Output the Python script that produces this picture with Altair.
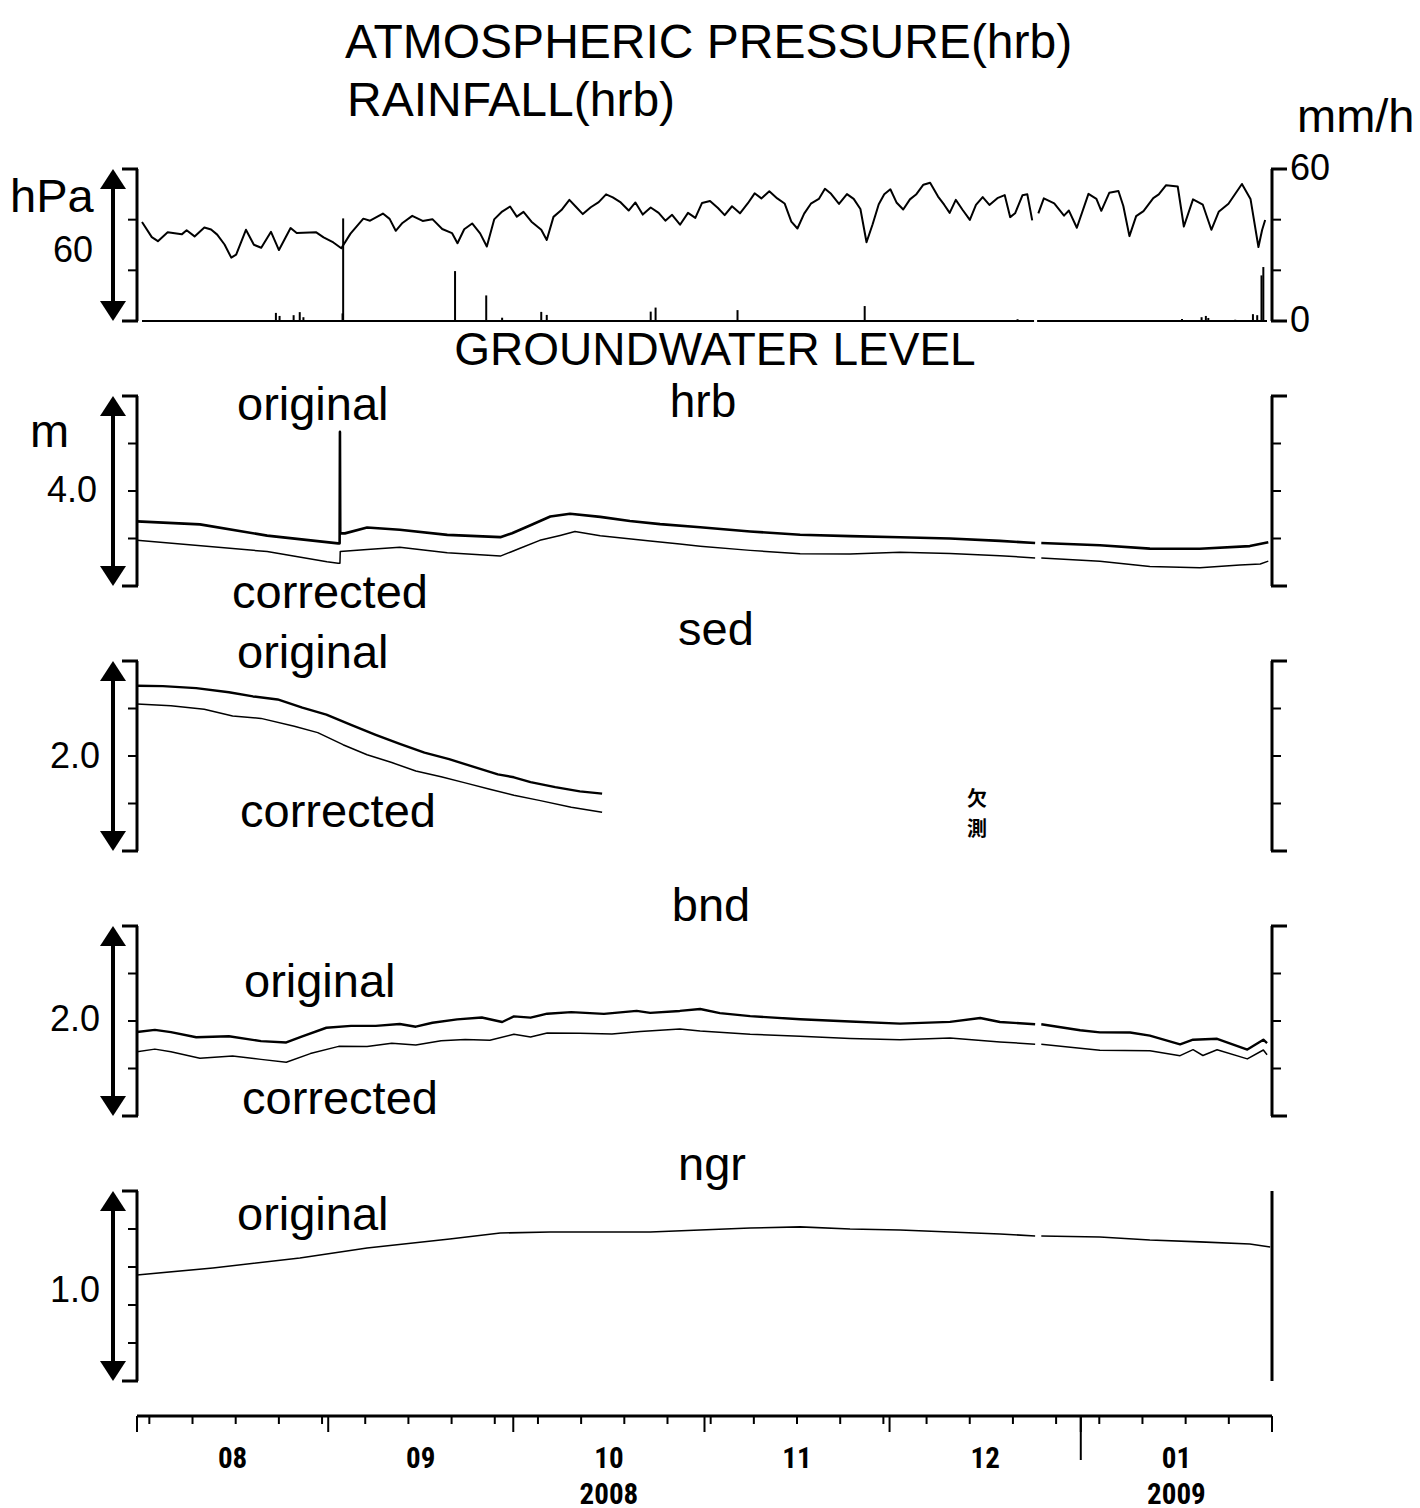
import altair as alt
import pandas as pd

# ---------------------------------------------------------------
# Data.  day = days since 2008-08-01 00:00
# ---------------------------------------------------------------
pressure_hpa = [
    (0, 1014.1), (1.6, 1008.1), (2.6, 1006.5), (4.2, 1010.0), (6.5, 1009.2), (7.3, 1010.8),
    (8.6, 1008.4), (10.2, 1011.9), (11.3, 1011.1), (12.3, 1009.1), (13.5, 1005.2), (14.6, 1000.0),
    (15.4, 1001.2), (17.0, 1011.0), (18.3, 1005.1), (19.5, 1003.9), (21.1, 1010.2), (22.4, 1003.0),
    (24.3, 1011.7), (25.3, 1009.7), (28.5, 1010.0), (29.7, 1008.0), (31.3, 1006.0), (32.6, 1003.7),
    (34.1, 1009.5), (36.2, 1015.4), (37.3, 1014.6), (39.4, 1017.4), (40.5, 1015.3), (41.5, 1010.6),
    (42.6, 1013.7), (44.2, 1016.5), (45.9, 1014.5), (47.5, 1015.2), (49.1, 1011.3), (50.7, 1009.7),
    (51.6, 1005.7), (52.7, 1011.2), (54.0, 1013.5), (55.3, 1009.6), (56.4, 1004.4), (57.6, 1015.1),
    (58.9, 1018.2), (60.2, 1020.2), (61.3, 1016.2), (62.4, 1018.1), (63.7, 1014.2), (65.3, 1011.0),
    (66.2, 1007.0), (67.3, 1016.1), (68.6, 1018.8), (69.9, 1022.8), (71.0, 1020.0), (72.1, 1017.2),
    (73.4, 1019.9), (74.7, 1021.9), (75.9, 1025.0), (77.0, 1023.8), (78.3, 1021.8), (79.6, 1018.6),
    (80.7, 1021.8), (81.9, 1017.0), (83.2, 1019.8), (84.5, 1017.7), (85.6, 1014.6), (86.7, 1016.9),
    (88.0, 1013.0), (89.3, 1017.7), (90.5, 1015.7), (91.6, 1021.6), (92.9, 1022.4), (94.2, 1019.6),
    (95.3, 1016.8), (96.5, 1020.3), (97.8, 1017.5), (99.1, 1021.5), (100.2, 1025.4), (101.3, 1023.4),
    (102.6, 1026.2), (103.9, 1023.4), (105.1, 1021.4), (106.2, 1014.2), (107.2, 1011.5), (108.3, 1017.4),
    (109.4, 1021.3), (110.7, 1023.2), (111.7, 1027.2), (112.7, 1025.2), (114.0, 1021.2), (115.3, 1025.1),
    (116.4, 1023.2), (117.5, 1019.2), (118.5, 1006.1), (119.5, 1013.2), (120.5, 1021.1), (121.4, 1025.0),
    (122.4, 1027.0), (123.4, 1021.8), (124.5, 1019.0), (125.6, 1023.0), (126.6, 1024.9), (127.8, 1028.8),
    (128.9, 1029.6), (130.2, 1024.1), (131.2, 1020.9), (132.1, 1017.7), (133.1, 1022.8), (134.2, 1018.9),
    (135.4, 1014.9), (136.4, 1020.8), (137.5, 1023.9), (138.6, 1020.8), (139.9, 1023.5), (141.1, 1024.7),
    (142.0, 1016.0), (142.8, 1017.5), (144.0, 1024.6), (144.8, 1025.0), (145.6, 1014.7),
    (146.6, 1017.5), (147.5, 1023.4), (149.2, 1021.4), (150.8, 1016.6), (151.6, 1018.6), (152.9, 1011.8),
    (154.8, 1025.2), (156.1, 1023.2), (156.9, 1018.5), (158.2, 1025.6), (159.7, 1026.3), (160.5, 1020.4),
    (161.5, 1008.5), (162.6, 1016.4), (163.8, 1018.4), (165.4, 1023.5), (166.3, 1025.0), (167.5, 1028.6),
    (169.4, 1028.1), (170.4, 1012.3), (171.9, 1023.0), (173.5, 1020.9), (174.9, 1011.0), (176.1, 1018.1),
    (177.7, 1021.3), (179.9, 1029.1), (181.3, 1023.2), (182.6, 1004.2), (183.2, 1010.9), (183.7, 1014.9),
]

rainfall_mmh = [
    (21.9, 3.2), (22.5, 2.0), (24.8, 2.3), (25.8, 3.5), (26.4, 1.5), (32.8, 3.0), (32.9, 40.5),
    (51.2, 19.7), (56.3, 10.1), (58.9, 1.3), (65.3, 3.6), (66.2, 2.4), (83.2, 3.7), (84.0, 5.3),
    (97.4, 4.3), (118.2, 5.9), (143.2, 0.7), (170.1, 0.8), (173.3, 1.5), (174.0, 2.0), (174.4, 1.2),
    (178.8, 0.5), (181.7, 2.7), (182.4, 2.3), (183.1, 18.0), (183.4, 21.3),
]

hrb_original = [
    (0, 1.361), (10.2, 1.298), (21.1, 1.060), (32.6, 0.898), (32.85, 0.898), (32.9, 3.244),
    (32.95, 1.108), (33.7, 1.108), (37.3, 1.231), (42.6, 1.185), (50.3, 1.076), (58.9, 1.028),
    (60.8, 1.110), (63.7, 1.275), (67.0, 1.462), (70.2, 1.522), (75.1, 1.455), (79.9, 1.370),
    (84.8, 1.303), (91.3, 1.236), (99.4, 1.148), (107.5, 1.079), (115.6, 1.051), (123.7, 1.026),
    (131.8, 0.999), (139.9, 0.951), (145.6, 0.905), (146.6, 0.905), (156.1, 0.857), (164.2, 0.787),
    (172.3, 0.783), (180.4, 0.840), (183.4, 0.921),
]
hrb_corrected = [
    (0, 0.963), (21.1, 0.725), (30.8, 0.509), (32.6, 0.480), (32.9, 0.480), (32.95, 0.725),
    (37.3, 0.771), (42.6, 0.815), (50.3, 0.699), (58.9, 0.630), (60.5, 0.712), (62.1, 0.796),
    (65.3, 0.961), (68.6, 1.064), (71.0, 1.146), (75.1, 1.058), (83.2, 0.949), (88.0, 0.882),
    (91.3, 0.838), (99.4, 0.750), (107.5, 0.681), (115.6, 0.674), (123.7, 0.712), (131.8, 0.685),
    (139.9, 0.637), (145.6, 0.591), (146.6, 0.591), (156.1, 0.521), (164.2, 0.410), (172.3, 0.385),
    (178.8, 0.444), (182.1, 0.463), (183.4, 0.524),
]

sed_original = [
    (0, 1.740), (4.2, 1.736), (9.6, 1.714), (14.9, 1.671), (18.8, 1.627), (22.8, 1.595),
    (26.8, 1.509), (30.7, 1.435), (34.7, 1.328), (38.7, 1.223), (42.6, 1.127), (46.6, 1.035),
    (50.6, 0.967), (54.6, 0.885), (58.5, 0.807), (61.1, 0.776), (63.8, 0.725), (67.8, 0.672),
    (71.8, 0.628), (75.4, 0.604),
]
sed_corrected = [
    (0, 1.547), (5.5, 1.528), (10.9, 1.493), (15.5, 1.421), (20.1, 1.396), (25.5, 1.313),
    (29.3, 1.246), (33.4, 1.119), (37.3, 1.013), (41.3, 0.931), (45.2, 0.842), (49.3, 0.781),
    (53.2, 0.717), (57.2, 0.651), (61.1, 0.586), (65.2, 0.533), (70.4, 0.461), (75.4, 0.407),
]

bnd_original = [
    (0, 0.884), (2.9, 0.907), (5.5, 0.883), (9.6, 0.829), (14.9, 0.839), (20.1, 0.788),
    (24.2, 0.774), (26.8, 0.839), (30.7, 0.929), (34.7, 0.949), (38.7, 0.949), (42.6, 0.969),
    (45.2, 0.940), (47.9, 0.982), (51.9, 1.017), (55.9, 1.037), (59.2, 0.989), (61.1, 1.049),
    (63.8, 1.035), (66.5, 1.077), (70.4, 1.093), (75.7, 1.075), (81.0, 1.107), (83.2, 1.086),
    (88.0, 1.106), (91.3, 1.126), (94.5, 1.083), (99.4, 1.051), (107.5, 1.018), (115.6, 0.995),
    (123.7, 0.972), (131.8, 0.991), (136.7, 1.032), (139.9, 0.989), (145.6, 0.966), (146.6, 0.966),
    (152.9, 0.902), (156.1, 0.880), (161.0, 0.879), (164.2, 0.846), (169.1, 0.754), (171.2, 0.803),
    (175.1, 0.813), (180.0, 0.699), (182.6, 0.803), (183.2, 0.768),
]
bnd_corrected = [
    (0, 0.677), (2.9, 0.704), (5.5, 0.676), (10.2, 0.608), (15.5, 0.632), (20.1, 0.596),
    (24.2, 0.566), (28.1, 0.657), (32.7, 0.733), (37.3, 0.732), (41.3, 0.766), (45.2, 0.747),
    (49.3, 0.792), (53.2, 0.805), (57.2, 0.798), (61.1, 0.860), (63.8, 0.831), (66.5, 0.873),
    (71.8, 0.871), (77.0, 0.863), (81.6, 0.889), (88.0, 0.917), (91.3, 0.895), (99.4, 0.861),
    (107.5, 0.839), (115.6, 0.816), (123.7, 0.803), (131.8, 0.822), (139.9, 0.779), (145.6, 0.756),
    (146.6, 0.756), (152.9, 0.713), (156.1, 0.691), (164.2, 0.688), (169.1, 0.635), (171.2, 0.698),
    (172.8, 0.637), (175.1, 0.697), (180.0, 0.601), (182.6, 0.695), (183.2, 0.645),
]

ngr_original = [
    (0, 0.558), (12.3, 0.595), (26.4, 0.647), (37.3, 0.700), (50.7, 0.747), (58.9, 0.779),
    (67.0, 0.784), (75.1, 0.784), (83.2, 0.784), (91.3, 0.795), (99.4, 0.805), (107.5, 0.811),
    (115.6, 0.800), (123.7, 0.795), (131.8, 0.784), (139.9, 0.774), (145.6, 0.763), (146.6, 0.763),
    (156.1, 0.758), (164.2, 0.742), (172.3, 0.732), (180.4, 0.721), (183.7, 0.705),
]

record_break_day = (145.9, 146.4)      # logger break, late December 2008
period_days = (0, 184)                 # 2008-08-01 .. 2009-02-01

month_labels = ["08", "09", "10", "11", "12", "01"]
month_mid_day = [15.5, 46.0, 76.5, 107.0, 137.5, 168.5]
month_start_day = [0, 31, 61, 92, 122, 153, 184]
year_labels = ["2008", "2009"]
year_mid_day = [76.5, 168.5]
year_start_day = [153]

# scale ranges (the double arrows show the full span)
P_DOM, P_TICKS = [975, 1035], [975, 995, 1015, 1035]
R_DOM, R_TICKS = [0, 60], [0, 20, 40, 60]
H_DOM, H_TICKS = [0, 4], [0, 1, 2, 3, 4]
S_DOM, S_TICKS = [0, 2], [0, 0.5, 1, 1.5, 2]
B_DOM, B_TICKS = [0, 2], [0, 0.5, 1, 1.5, 2]
N_DOM, N_TICKS = [0, 1], [0, 0.2, 0.4, 0.6, 0.8, 1.0]

# ---------------------------------------------------------------
BASE = pd.Timestamp("2008-08-01 00:00:00")
W = 1135
SANS = "Liberation Sans, Arial, Helvetica, sans-serif"
NARROW = "Liberation Sans Narrow, Roboto Condensed, Arial Narrow, DejaVu Sans Condensed, sans-serif"
CJK = "Noto Sans CJK JP"
UP = "M0,-0.77L1,0.77L-1,0.77Z"
DOWN = "M0,0.77L1,-0.77L-1,-0.77Z"


def to_time(days):
    return (BASE + pd.to_timedelta(pd.Series(days, dtype=float), unit="D")).dt.round("min")


def series(pairs):
    df = pd.DataFrame(pairs, columns=["day", "v"])
    df["t"] = to_time(df["day"])
    df["seg"] = (df["day"] > record_break_day[0]).astype(int)
    return df[["t", "v", "seg"]]


XDOM = [alt.DateTime(year=2008, month=8, date=1), alt.DateTime(year=2009, month=2, date=1)]


def xenc(field="t"):
    return alt.X(f"{field}:T", scale=alt.Scale(domain=XDOM, nice=False), axis=None, title=None)


def yenc(field, dom):
    return alt.Y(f"{field}:Q", scale=alt.Scale(domain=dom, nice=False, zero=False),
                 axis=None, title=None)


def line(pairs, dom, width=1.6):
    return alt.Chart(series(pairs)).mark_line(
        color="black", strokeWidth=width, strokeJoin="round").encode(
        x=xenc(), y=yenc("v", dom), detail="seg:N")


def frame(dom, ticks, side, with_ticks=True):
    """vertical scale bar: line, small ticks, longer end caps (drawn on the panel's scale)"""
    x0 = 0 if side == "left" else W
    sgn = -1 if side == "left" else 1
    out = [alt.Chart(pd.DataFrame({"lo": [dom[0]], "hi": [dom[1]]})).mark_rule(
        color="black", strokeWidth=3).encode(x=alt.value(x0), y=yenc("hi", dom), y2="lo:Q")]
    if with_ticks:
        out.append(alt.Chart(pd.DataFrame({"v": ticks})).mark_rule(
            color="black", strokeWidth=2).encode(
            y=yenc("v", dom), x=alt.value(x0), x2=alt.value(x0 + sgn * 9)))
        out.append(alt.Chart(pd.DataFrame({"v": dom})).mark_rule(
            color="black", strokeWidth=3).encode(
            y=yenc("v", dom), x=alt.value(x0 - sgn * 1), x2=alt.value(x0 + sgn * 15)))
    return out


def arrow(dom):
    df = pd.DataFrame({"lo": [dom[0]], "hi": [dom[1]]})
    shaft = alt.Chart(df).mark_rule(color="black", strokeWidth=4, yOffset=12, y2Offset=-12).encode(
        x=alt.value(-24), y=yenc("hi", dom), y2="lo:Q")
    up = alt.Chart(df).mark_point(shape=UP, size=676, filled=True, color="black", opacity=1,
                                  strokeWidth=0, yOffset=10).encode(
        x=alt.value(-24), y=yenc("hi", dom))
    down = alt.Chart(df).mark_point(shape=DOWN, size=676, filled=True, color="black", opacity=1,
                                    strokeWidth=0, yOffset=-10).encode(
        x=alt.value(-24), y=yenc("lo", dom))
    return [shaft, up, down]


def label(text, x, y, size=47, align="left", font=SANS, weight="normal", **kw):
    return alt.Chart(pd.DataFrame({"k": [0]})).mark_text(
        text=text, align=align, baseline="alphabetic", fontSize=size, font=font,
        fontWeight=weight, color="black", **kw).encode(x=alt.value(x), y=alt.value(y))


def span(dom):
    d = dom[1] - dom[0]
    return f"{d:.0f}" if d >= 10 else f"{d:.1f}"


# ---------------- panel 1 : pressure + rainfall ----------------
anchor = alt.Chart(pd.DataFrame({"k": [0]})).mark_square(size=4, color="white", opacity=0.01).encode(
    x=alt.value(-136), y=alt.value(-168))

pressure_group = alt.layer(
    anchor,
    line(pressure_hpa, P_DOM, 2.0),
    *frame(P_DOM, P_TICKS, "left"),
    *arrow(P_DOM),
    label("ATMOSPHERIC PRESSURE(hrb)", 208, -111, 48),
    label("RAINFALL(hrb)", 210, -53, 48),
    label("mm/h", 1160, -37),
    label("hPa", -127, 43),
    label(span(P_DOM), -44, 93, 36, align="right"),
)

rain_df = pd.DataFrame(rainfall_mmh, columns=["day", "v"])
rain_df["t"] = to_time(rain_df["day"])
rain_df["z"] = 0
base_df = pd.DataFrame({
    "t0": to_time([period_days[0], record_break_day[1]]),
    "t1": to_time([record_break_day[0], period_days[1]]),
    "z": [0, 0]})
rain_lab = pd.DataFrame({"v": [R_DOM[0], R_DOM[1]],
                         "txt": [f"{R_DOM[0]}", f"{R_DOM[1]}"]})

rain_group = alt.layer(
    alt.Chart(rain_df).mark_bar(color="black", size=2).encode(
        x=xenc(), y=yenc("v", R_DOM), y2="z:Q"),
    alt.Chart(base_df).mark_rule(color="black", strokeWidth=2).encode(
        x=xenc("t0"), x2="t1:T", y=yenc("z", R_DOM)),
    *frame(R_DOM, R_TICKS, "right"),
    alt.Chart(rain_lab).mark_text(align="left", baseline="middle", fontSize=36, font=SANS,
                                  color="black").encode(
        x=alt.value(W + 18), y=yenc("v", R_DOM), text="txt:N"),
)

p1 = alt.layer(pressure_group, rain_group).resolve_scale(y="independent").properties(
    width=W, height=152)

# ---------------- panel 2 : hrb ----------------
p2 = alt.layer(
    line(hrb_original, H_DOM, 2.6),
    line(hrb_corrected, H_DOM, 1.5),
    *frame(H_DOM, H_TICKS, "left"), *frame(H_DOM, H_TICKS, "right"),
    *arrow(H_DOM),
    label("GROUNDWATER LEVEL", 578, -31, 46, align="center"),
    label("hrb", 566, 21, 46, align="center"),
    label("original", 100, 24),
    label("m", -107, 51),
    label(span(H_DOM), -40, 106, 36, align="right"),
    label("corrected", 95, 212),
).properties(width=W, height=190)

# ---------------- panel 3 : sed ----------------
p3 = alt.layer(
    line(sed_original, S_DOM, 2.4),
    line(sed_corrected, S_DOM, 1.5),
    *frame(S_DOM, S_TICKS, "left"), *frame(S_DOM, S_TICKS, "right"),
    *arrow(S_DOM),
    label("sed", 579, -16, align="center"),
    label("original", 100, 7),
    label(span(S_DOM), -37, 107, 36, align="right"),
    label("corrected", 103, 166),
    label(["欠", "測"], 840, 145, 20, align="center", font=CJK, weight="bold", lineHeight=30),
).properties(width=W, height=190)

# ---------------- panel 4 : bnd ----------------
p4 = alt.layer(
    line(bnd_original, B_DOM, 2.4),
    line(bnd_corrected, B_DOM, 1.5),
    *frame(B_DOM, B_TICKS, "left"), *frame(B_DOM, B_TICKS, "right"),
    *arrow(B_DOM),
    label("bnd", 574, -5, align="center"),
    label("original", 107, 71),
    label(span(B_DOM), -37, 105, 36, align="right"),
    label("corrected", 105, 188),
).properties(width=W, height=190)

# ---------------- panel 5 : ngr + time axis ----------------
AX_Y = 225          # time axis line sits 35 px below the last panel
week_days = [(d - BASE).days for d in pd.date_range("2008-08-03", "2009-01-31", freq="7D")]

axis_line = alt.Chart(pd.DataFrame({"t0": to_time([period_days[0]]),
                                    "t1": to_time([period_days[1]])})).mark_rule(
    color="black", strokeWidth=3).encode(x=xenc("t0"), x2="t1:T", y=alt.value(AX_Y))


def ticks(days, length, width=2):
    return alt.Chart(pd.DataFrame({"t": to_time(days)})).mark_rule(
        color="black", strokeWidth=width).encode(
        x=xenc(), y=alt.value(AX_Y), y2=alt.value(AX_Y + length))


def tick_labels(days, texts, y):
    return alt.Chart(pd.DataFrame({"t": to_time(days), "txt": texts})).mark_text(
        font=NARROW, fontWeight="bold", fontSize=29, baseline="alphabetic", align="center",
        color="black").encode(x=xenc(), y=alt.value(y), text="txt:N")


p5 = alt.layer(
    line(ngr_original, N_DOM, 1.6),
    *frame(N_DOM, N_TICKS, "left"), *frame(N_DOM, N_TICKS, "right", with_ticks=False),
    *arrow(N_DOM),
    label("ngr", 575, -11, align="center"),
    label("original", 100, 39),
    label(span(N_DOM), -37, 111, 36, align="right"),
    axis_line,
    ticks(week_days, 8),
    ticks(month_start_day, 16),
    ticks(year_start_day, 44),
    tick_labels(month_mid_day, month_labels, 277),
    tick_labels(year_mid_day, year_labels, 313),
).properties(width=W, height=190)

chart = alt.vconcat(p1, p2, p3, p4, p5, spacing=75, bounds="flush").properties(
    padding=0).configure_view(stroke=None)

chart.save("out.html", embed_options={"renderer": "svg", "actions": False})
